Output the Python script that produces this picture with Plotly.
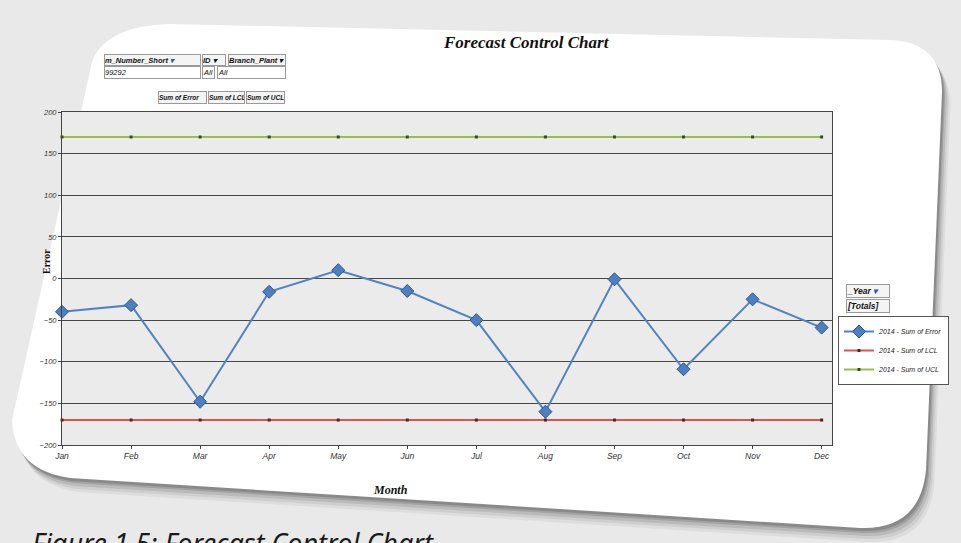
import plotly.graph_objects as go

# ---- data -------------------------------------------------------------
months = ["Jan", "Feb", "Mar", "Apr", "May", "Jun",
          "Jul", "Aug", "Sep", "Oct", "Nov", "Dec"]
error = [-40, -32, -148, -16, 10, -15, -50, -160, -1, -109, -25, -59]
lcl = [-170] * 12
ucl = [170] * 12
y_ticks = [200, 150, 100, 50, 0, -50, -100, -150, -200]

# ---- geometry helpers (pixel -> paper) ---------------------------------
W, H = 961, 543
L, R, T, B = 62, 129, 112, 98
PW, PH = W - L - R, H - T - B


def px(x):
    return (x - L) / PW


def py(y):
    return (H - B - y) / PH


def path(points):
    """Closed path through pixel points; ('Q', c, p) makes a rounded corner."""
    out = []
    for i, p in enumerate(points):
        if p[0] == "Q":
            (cx, cy), (ex, ey) = p[1], p[2]
            out.append(f"Q{px(cx):.4f},{py(cy):.4f} {px(ex):.4f},{py(ey):.4f}")
        else:
            out.append(("M" if i == 0 else "L") + f"{px(p[0]):.4f},{py(p[1]):.4f}")
    return " ".join(out) + " Z"


card = [(170, 24), (890, 40), ("Q", (942, 42), (942, 92)), (926, 470),
        ("Q", (920, 530), (860, 528)), (70, 478), ("Q", (14, 470), (12, 420)),
        (92, 62), ("Q", (105, 26), (170, 24))]


def shifted(pts, dx, dy):
    res = []
    for p in pts:
        if p[0] == "Q":
            res.append(("Q", (p[1][0] + dx, p[1][1] + dy), (p[2][0] + dx, p[2][1] + dy)))
        else:
            res.append((p[0] + dx, p[1] + dy))
    return res


shapes = []
# soft drop shadow under the card
for k, op in [(14, 0.06), (11, 0.08), (8, 0.12), (5, 0.16), (3, 0.2)]:
    shapes.append(dict(type="path", xref="paper", yref="paper", layer="below",
                       path=path(shifted(card, k * 0.6, k)),
                       fillcolor=f"rgba(40,40,40,{op})", line=dict(width=0)))
# white card
shapes.append(dict(type="path", xref="paper", yref="paper", layer="below",
                   path=path(card), fillcolor="white", line=dict(width=0)))
# plot area fill
shapes.append(dict(type="rect", xref="paper", yref="paper", layer="below",
                   x0=0, x1=1, y0=0, y1=1, fillcolor="#ebebeb", line=dict(width=0)))

fig = go.Figure()
fig.add_trace(go.Scatter(
    x=months, y=error, name="2014 - Sum of Error", mode="lines+markers",
    line=dict(color="#5482c0", width=2),
    marker=dict(symbol="diamond", size=10, color="#4f7fbf",
                line=dict(color="#2f5487", width=1)),
    cliponaxis=False))
fig.add_trace(go.Scatter(
    x=months, y=lcl, name="2014 - Sum of LCL", mode="lines+markers",
    line=dict(color="#dd5252", width=2),
    marker=dict(symbol="square", size=3, color="#5a2020"), cliponaxis=False))
fig.add_trace(go.Scatter(
    x=months, y=ucl, name="2014 - Sum of UCL", mode="lines+markers",
    line=dict(color="#9bbb59", width=2),
    marker=dict(symbol="square", size=3, color="#3a4a20"), cliponaxis=False))

ann = []


def box(text, x0, x1, y0, y1, size=7.5, bold=True, bg="#f4f4f4"):
    ann.append(dict(xref="paper", yref="paper", x=px(x0), y=py(y0),
                    xanchor="left", yanchor="top", showarrow=False,
                    width=x1 - x0 - 2, height=y1 - y0 - 2, align="left", valign="middle",
                    text=text, bgcolor=bg, bordercolor="#9a9a9a", borderwidth=1, borderpad=0,
                    font=dict(family="Liberation Sans", size=size, color="#111",
                              style="italic", weight="bold" if bold else "normal")))


arrow = "<span style='color:#2a4fd0'>▾</span>"
box("m_Number_Short " + arrow, 104, 201, 54, 66)
box("ID ▾", 202, 226, 54, 66)
box("Branch_Plant ▾", 228, 286, 54, 66)
box("99292", 104, 201, 66, 79, bold=False, bg="white")
box("All", 202, 215, 66, 79, bold=False, bg="white")
box("All", 217, 286, 66, 79, bold=False, bg="white")
box("Sum of Error", 158, 207, 91, 104, size=6.5)
box("Sum of LCL", 208, 245, 91, 104, size=6.5)
box("Sum of UCL", 246, 285, 91, 104, size=6.5)
box("_Year " + arrow, 846, 890, 284, 298, size=8.5)
box("[Totals]", 846, 890, 299, 313, size=8.5)

ann.append(dict(xref="paper", yref="paper", x=px(526), y=py(42), showarrow=False,
                text="Forecast Control Chart", xanchor="center", yanchor="middle",
                font=dict(family="Liberation Serif", size=17, color="#111",
                          style="italic", weight="bold")))
ann.append(dict(xref="paper", yref="paper", x=px(390), y=py(490), showarrow=False,
                text="Month", xanchor="center", yanchor="middle",
                font=dict(family="Liberation Serif", size=12, color="#111",
                          style="italic", weight="bold")))
ann.append(dict(xref="paper", yref="paper", x=px(46), y=py(262), showarrow=False,
                text="Error", textangle=-90, xanchor="center", yanchor="middle",
                font=dict(family="Liberation Serif", size=10, color="#111", weight="bold")))
ann.append(dict(xref="paper", yref="paper", x=px(30), y=py(522), showarrow=False,
                text="Figure 1.5: Forecast Control Chart", xanchor="left", yanchor="top",
                font=dict(family="Noto Sans", size=27, color="#1a1a1a", style="italic")))

fig.update_layout(
    width=W, height=H, margin=dict(l=L, r=R, t=T, b=B),
    paper_bgcolor="#e9e9e9", plot_bgcolor="rgba(0,0,0,0)",
    shapes=shapes, annotations=ann, showlegend=True,
    legend=dict(x=px(838), y=py(316), xanchor="left", yanchor="top",
                bgcolor="white", bordercolor="#555", borderwidth=1,
                font=dict(family="Liberation Sans", size=7, color="#222", style="italic"),
                itemwidth=30, tracegroupgap=0),
    xaxis=dict(type="category", categoryorder="array", categoryarray=months,
               range=[0, 11.15], showgrid=False, showline=True, mirror=True,
               linecolor="#444", linewidth=1, ticks="outside", ticklen=3,
               tickcolor="#444",
               tickfont=dict(family="Liberation Sans", size=8.5, color="#333", style="italic")),
    yaxis=dict(range=[-200, 200], tickvals=y_ticks, showgrid=True,
               gridcolor="#474747", gridwidth=1.4, zeroline=False,
               showline=True, mirror=True, linecolor="#444", linewidth=1,
               ticks="outside", ticklen=3, tickcolor="#444",
               tickfont=dict(family="Liberation Sans", size=7.5, color="#333", style="italic")),
)

fig.write_html("out.html")
